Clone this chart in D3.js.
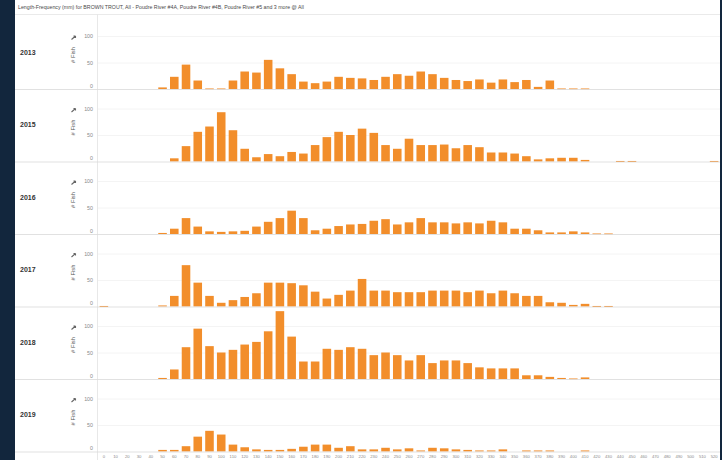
<!DOCTYPE html>
<html>
<head>
<meta charset="utf-8">
<script src="https://cdn.jsdelivr.net/npm/d3@7/dist/d3.min.js"></script>
<style>
  html, body { margin: 0; padding: 0; background: #12263d; }
  svg { display: block; }
  text { font-family: "Liberation Sans", Arial, sans-serif; }
</style>
</head>
<body>
<svg id="chart" width="722" height="460"></svg>
<script>
// Length bins (mm)
const lengthBins = [0,10,20,30,40,50,60,70,80,90,100,110,120,130,140,150,160,170,180,190,
  200,210,220,230,240,250,260,270,280,290,300,310,320,330,340,350,360,370,380,390,
  400,410,420,430,440,450,460,470,480,490,500,510,520];

const years = ["2013","2015","2016","2017","2018","2019"];

// Fish counts per length bin, one array per survey year
const fish2013 = [0,0,0,0,0,3,23,46,16,1,1,16,33,31,55,39,28,14,11,14,
  23,21,20,17,23,28,25,33,28,21,17,15,18,12,18,13,17,4,16,1,
  1,1,0,0,0,0,0,0,0,0,0,0,0];
const fish2015 = [0,0,0,0,0,0,6,29,56,66,93,59,24,8,14,10,18,15,31,46,
  56,50,62,54,31,24,43,31,31,32,25,31,27,17,17,15,10,4,6,7,
  7,3,0,0,1,1,0,0,0,0,0,0,1];
const fish2016 = [0,0,0,0,0,2,10,30,14,5,4,5,6,14,23,30,44,30,7,10,
  15,18,19,25,28,18,22,30,22,22,20,22,20,25,22,10,10,7,3,3,
  5,3,1,1,0,0,0,0,0,0,0,0,0];
const fish2017 = [1,0,0,0,0,2,20,78,45,20,7,12,18,25,45,45,44,40,28,15,
  22,30,52,30,30,27,27,27,30,30,30,27,30,25,30,25,20,20,8,7,
  3,5,1,1,0,0,0,0,0,0,0,0,0];
const fish2018 = [0,0,0,0,0,2,18,60,95,62,50,55,65,70,90,128,80,33,33,57,
  55,60,57,45,50,45,35,45,30,35,35,30,22,20,20,20,7,7,4,2,
  1,3,0,0,0,0,0,0,0,0,0,0,0];
const fish2019 = [0,0,0,0,0,3,3,10,28,39,32,13,8,4,3,3,5,9,13,13,
  7,10,4,4,7,4,6,2,7,6,4,3,2,2,4,0,2,2,2,0,
  0,2,0,0,0,0,0,0,0,0,0,0,0];

const yTicks = [0, 50, 100];
const titleText = "Length-Frequency (mm) for BROWN TROUT, All - Poudre River #4A, Poudre River #4B, Poudre River #5 and 3 more @ All";
const yTitle = "# Fish";

const seriesByYear = [fish2013, fish2015, fish2016, fish2017, fish2018, fish2019];

const svg = d3.select("#chart");
const W = 722, H = 460;
const panel = { left: 15, right: 720, top: 0 };
const plotLeft = 98, plotRight = 720;
const firstBaseline = 89, rowStep = 72.5, hundredPx = 53;
const barColor = "#f28e2b";

// White panel on dark frame
svg.append("rect").attr("x", panel.left).attr("y", 0)
  .attr("width", panel.right - panel.left).attr("height", H).attr("fill", "#ffffff");

// Title
svg.append("text").attr("x", 18).attr("y", 8.8)
  .attr("font-size", 5.25).attr("fill", "#4a4a4a").text(titleText);

svg.append("line").attr("x1", panel.left).attr("x2", panel.right)
  .attr("y1", 14.5).attr("y2", 14.5).attr("stroke", "#e4e4e4").attr("stroke-width", 0.8);

// Shared x scale
const x = d3.scaleBand().domain(lengthBins).range([plotLeft, plotRight])
  .paddingInner(0.27).paddingOuter(0.135);

// Header/plot separator
svg.append("line").attr("x1", 97.5).attr("x2", 97.5).attr("y1", 14.5).attr("y2", H)
  .attr("stroke", "#e2e2e2").attr("stroke-width", 0.8);

years.forEach((yr, i) => {
  const base = firstBaseline + i * rowStep;
  const y = d3.scaleLinear().domain([0, 100]).range([base, base - hundredPx]);
  const g = svg.append("g");

  // faint gridlines
  g.selectAll("line.grid").data(yTicks.filter(t => t > 0)).join("line")
    .attr("x1", plotLeft).attr("x2", plotRight)
    .attr("y1", d => y(d) + 0.5).attr("y2", d => y(d) + 0.5)
    .attr("stroke", "#f1f1f1").attr("stroke-width", 0.8);

  // bars
  const rows = lengthBins.map((b, j) => ({ bin: b, v: seriesByYear[i][j] }));
  g.selectAll("rect.bar").data(rows.filter(d => d.v > 0)).join("rect")
    .attr("x", d => x(d.bin)).attr("width", x.bandwidth())
    .attr("y", d => y(d.v)).attr("height", d => Math.max(1, y(0) - y(d.v)))
    .attr("fill", barColor);

  // row baseline / separator
  g.append("line").attr("x1", panel.left).attr("x2", panel.right)
    .attr("y1", base + 0.5).attr("y2", base + 0.5)
    .attr("stroke", "#d9d9d9").attr("stroke-width", 0.8);

  // y axis tick labels (the zero label sits just inside the pane)
  const axis = d3.axisLeft(y).tickValues(yTicks).tickSize(0).tickPadding(0);
  const ag = g.append("g").attr("transform", "translate(93,0)").call(axis);
  ag.select(".domain").remove();
  ag.selectAll("text").attr("font-size", 5.3).attr("fill", "#8a8a8a")
    .attr("font-family", "Liberation Sans, Arial, sans-serif");
  ag.selectAll(".tick").filter(d => d === 0).select("text").attr("dy", "-0.35em");

  // year label
  g.append("text").attr("x", 20).attr("y", base - 36)
    .attr("font-size", 7).attr("font-weight", "bold").attr("fill", "#333")
    .attr("dominant-baseline", "middle").text(yr);

  // rotated axis title with sort icon
  const cy = base - 34;
  g.append("text").attr("transform", `translate(74.5,${cy}) rotate(-90)`)
    .attr("text-anchor", "middle").attr("font-size", 5.8).attr("fill", "#555")
    .text(yTitle);
  const ix = 74, iy = base - 51.5;
  g.append("path")
    .attr("d", `M${ix-2.5},${iy+2} L${ix+1.5},${iy-1.5} M${ix+1.5},${iy-1.5} L${ix-0.5},${iy-1.5} M${ix+1.5},${iy-1.5} L${ix+1.5},${iy+0.5}`)
    .attr("stroke", "#666").attr("stroke-width", 1.1).attr("fill", "none");
});

// x axis labels along the bottom
const xg = svg.append("g").attr("transform", "translate(0,452)")
  .call(d3.axisBottom(x).tickSize(0).tickPadding(3));
xg.select(".domain").remove();
xg.selectAll("text").attr("font-size", 4.2).attr("fill", "#8a8a8a")
  .attr("font-family", "Liberation Sans, Arial, sans-serif");
</script>
</body>
</html>
